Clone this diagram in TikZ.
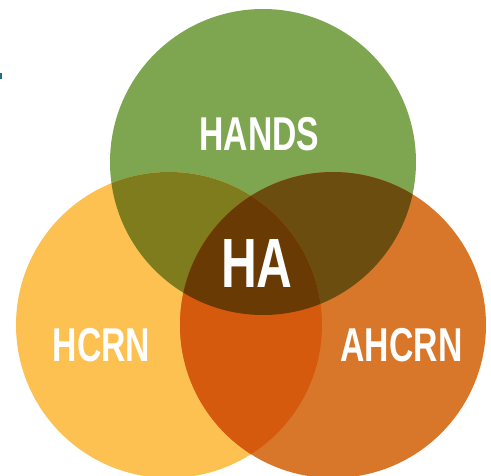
\documentclass[tikz,border=0pt]{standalone}
\usepackage{fontspec}
\usepackage{graphicx}
\setmainfont{Liberation Sans}
\definecolor{cG}{RGB}{126,166,80}
\definecolor{cY}{RGB}{253,193,82}
\definecolor{cO}{RGB}{216,119,42}
\definecolor{cGY}{RGB}{126,124,28}
\definecolor{cGO}{RGB}{107,77,15}
\definecolor{cYO}{RGB}{214,90,13}
\definecolor{cGYO}{RGB}{106,58,4}
\definecolor{cTeal}{RGB}{30,110,130}
\tikzset{
  lbl/.style={text=white, inner sep=0pt, anchor=base, font=\bfseries},
}
\newcommand{\biglbl}[1]{\fontsize{47.5}{50}\selectfont\scalebox{0.71}[1]{#1}}
\newcommand{\hugelbl}[1]{\fontsize{69.8}{72}\selectfont\scalebox{0.71}[1]{#1}}
\begin{document}
\begin{tikzpicture}[x=1pt,y=-1pt]
\useasboundingbox (0,0) rectangle (491,476);
\clip (0,0) rectangle (491,476);
\fill[cTeal] (0,73) rectangle (1.5,79);
\coordinate (g) at (263,162);
\coordinate (y) at (169,325);
\coordinate (o) at (333,325);
\def\R{153}
\fill[cG] (g) circle (\R);
\fill[cY] (y) circle (\R);
\fill[cO] (o) circle (\R);
\begin{scope}
  \clip (g) circle (\R);
  \fill[cGY] (y) circle (\R);
  \fill[cGO] (o) circle (\R);
\end{scope}
\begin{scope}
  \clip (y) circle (\R);
  \fill[cYO] (o) circle (\R);
  \clip (o) circle (\R);
  \fill[cGYO] (g) circle (\R);
\end{scope}
\node[lbl] (hands) at (259.5,151) {\biglbl{HANDS}};
\node[lbl] (hcrn) at (101.5,362) {\biglbl{HCRN}};
\node[lbl] (ahcrn) at (401.5,362) {\biglbl{AHCRN}};
\node[lbl] (ha) at (257,288) {\hugelbl{HA}};
\end{tikzpicture}
\end{document}
